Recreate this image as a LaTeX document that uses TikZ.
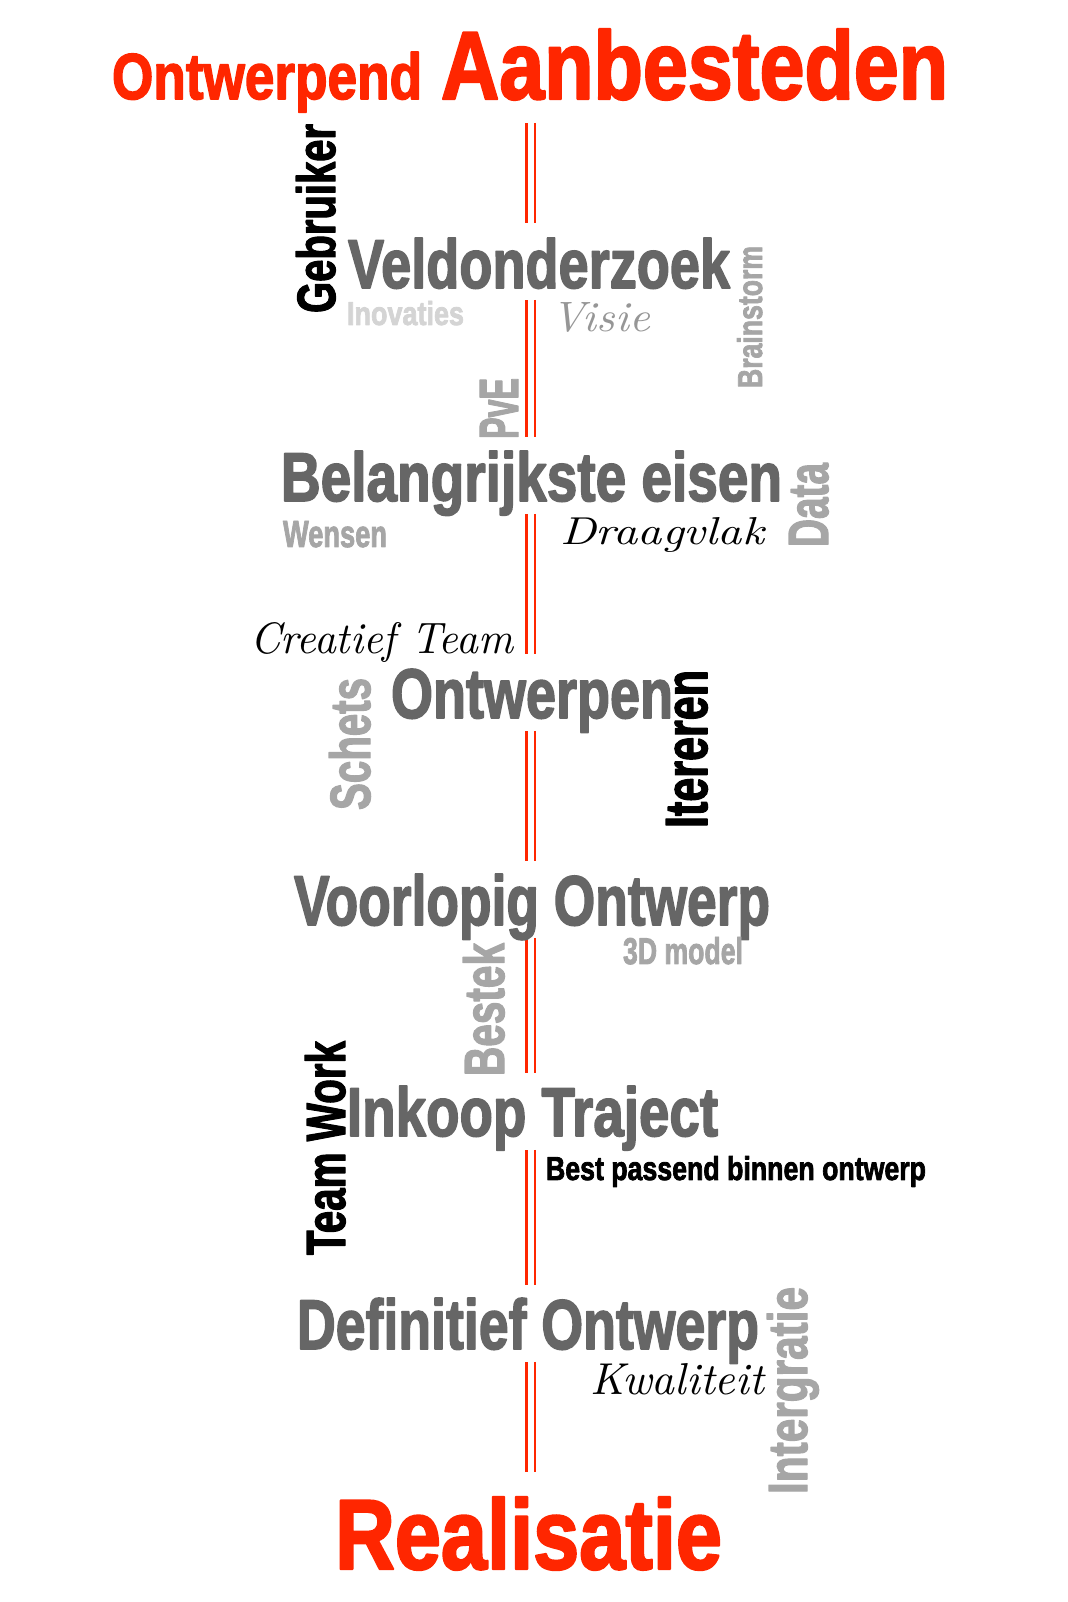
\documentclass[tikz,border=0pt]{standalone}
\usepackage{fontspec}
\usepackage{graphicx}
\usepackage{xcolor}
\usepackage{tikz}

\newfontfamily\impactfont[FakeBold=2.5]{Liberation Sans Bold}
\newcommand{\fitword}[3]{\resizebox{#1cm}{#2cm}{#3}}

\definecolor{titlered}{RGB}{255,38,0}
\definecolor{stagegrey}{RGB}{102,102,102}
\definecolor{wordgrey}{RGB}{166,166,166}
\definecolor{palegrey}{RGB}{212,212,212}
\definecolor{visiegrey}{RGB}{150,150,150}

\begin{document}
\begin{tikzpicture}[
  line join=round,
  word/.style={inner sep=0pt,outer sep=0pt,anchor=base west},
  headword/.style={word,text=titlered,font=\impactfont},
  stage/.style={word,text=stagegrey,font=\impactfont},
  greyword/.style={word,text=wordgrey,font=\impactfont},
  paleword/.style={word,text=palegrey,font=\impactfont},
  blackword/.style={word,text=black,font=\impactfont},
  handword/.style={word,text=black,font=\itshape},
  turned/.style={rotate=90},
  rail/.style={draw=titlered,double=white,line width=0.25mm,
    double distance=0.60mm,line cap=butt}
]
\path[use as bounding box,fill=white] (0,0) rectangle (10.68,16.02);

% title and end point
\node[headword] (ontwerpend) at (1.12,15.03) {\fitword{3.10}{0.47}{Ontwerpend}};
\node[headword] (aanbesteden) at (4.41,15.03) {\fitword{5.07}{0.70}{Aanbesteden}};
\node[headword] (realisatie) at (3.35,0.33) {\fitword{3.87}{0.72}{Realisatie}};

% the central rail
\draw[rail] (5.305,14.79) -- (5.305,13.79);
\draw[rail] (5.305,13.02) -- (5.305,11.65);
\draw[rail] (5.305,10.88) -- (5.305,9.48);
\draw[rail] (5.305,8.71) -- (5.305,7.41);
\draw[rail] (5.305,6.64) -- (5.305,5.29);
\draw[rail] (5.305,4.52) -- (5.305,3.17);
\draw[rail] (5.305,2.40) -- (5.305,1.30);

% stage 1
\node[stage] (veld) at (3.48,13.14) {\fitword{3.82}{0.50}{Veldonderzoek}};
\node[paleword] (inovaties) at (3.47,12.77) {\fitword{1.17}{0.24}{Inovaties}};
\node[handword,text=visiegrey] (visie) at (5.51,12.70) {\fitword{0.99}{0.29}{Visie}};
\node[blackword,turned] (gebruiker) at (3.35,12.89) {\fitword{1.89}{0.39}{Gebruiker}};
\node[greyword,turned] (brainstorm) at (7.62,12.14) {\fitword{1.42}{0.25}{Brainstorm}};
\node[greyword,turned] (pve) at (5.18,11.63) {\fitword{0.61}{0.38}{PvE}};

% stage 2
\node[stage] (eisen) at (2.81,11.01) {\fitword{5.01}{0.50}{Belangrijkste eisen}};
\node[greyword] (wensen) at (2.83,10.55) {\fitword{1.04}{0.26}{Wensen}};
\node[handword] (draagvlak) at (5.60,10.57) {\fitword{2.04}{0.27}{Draagvlak}};
\node[greyword,turned] (data) at (8.28,10.55) {\fitword{0.84}{0.39}{Data}};

% stage 3
\node[handword] (creatief) at (2.50,9.48) {\fitword{2.63}{0.31}{Creatief Team}};
\node[stage] (ontwerpen) at (3.91,8.84) {\fitword{2.82}{0.49}{Ontwerpen}};
\node[greyword,turned] (schets) at (3.70,7.92) {\fitword{1.32}{0.41}{Schets}};
\node[blackword,turned] (itereren) at (7.07,7.74) {\fitword{1.58}{0.41}{Itereren}};

% stage 4
\node[stage] (voorlopig) at (2.94,6.77) {\fitword{4.76}{0.51}{Voorlopig Ontwerp}};
\node[greyword] (model) at (6.23,6.38) {\fitword{1.20}{0.27}{3D model}};
\node[greyword,turned] (bestek) at (5.04,5.26) {\fitword{1.33}{0.41}{Bestek}};

% stage 5
\node[stage] (inkoop) at (3.47,4.66) {\fitword{3.71}{0.50}{Inkoop Traject}};
\node[blackword,turned] (teamwork) at (3.45,3.47) {\fitword{2.14}{0.40}{Team Work}};
\node[blackword] (passend) at (5.46,4.22) {\fitword{3.80}{0.24}{Best passend binnen ontwerp}};

% stage 6
\node[stage] (definitief) at (2.97,2.53) {\fitword{4.62}{0.51}{Definitief Ontwerp}};
\node[handword] (kwaliteit) at (5.90,2.07) {\fitword{1.74}{0.31}{Kwaliteit}};
\node[greyword,turned] (intergratie) at (8.07,1.08) {\fitword{2.07}{0.40}{Intergratie}};
\end{tikzpicture}
\end{document}
